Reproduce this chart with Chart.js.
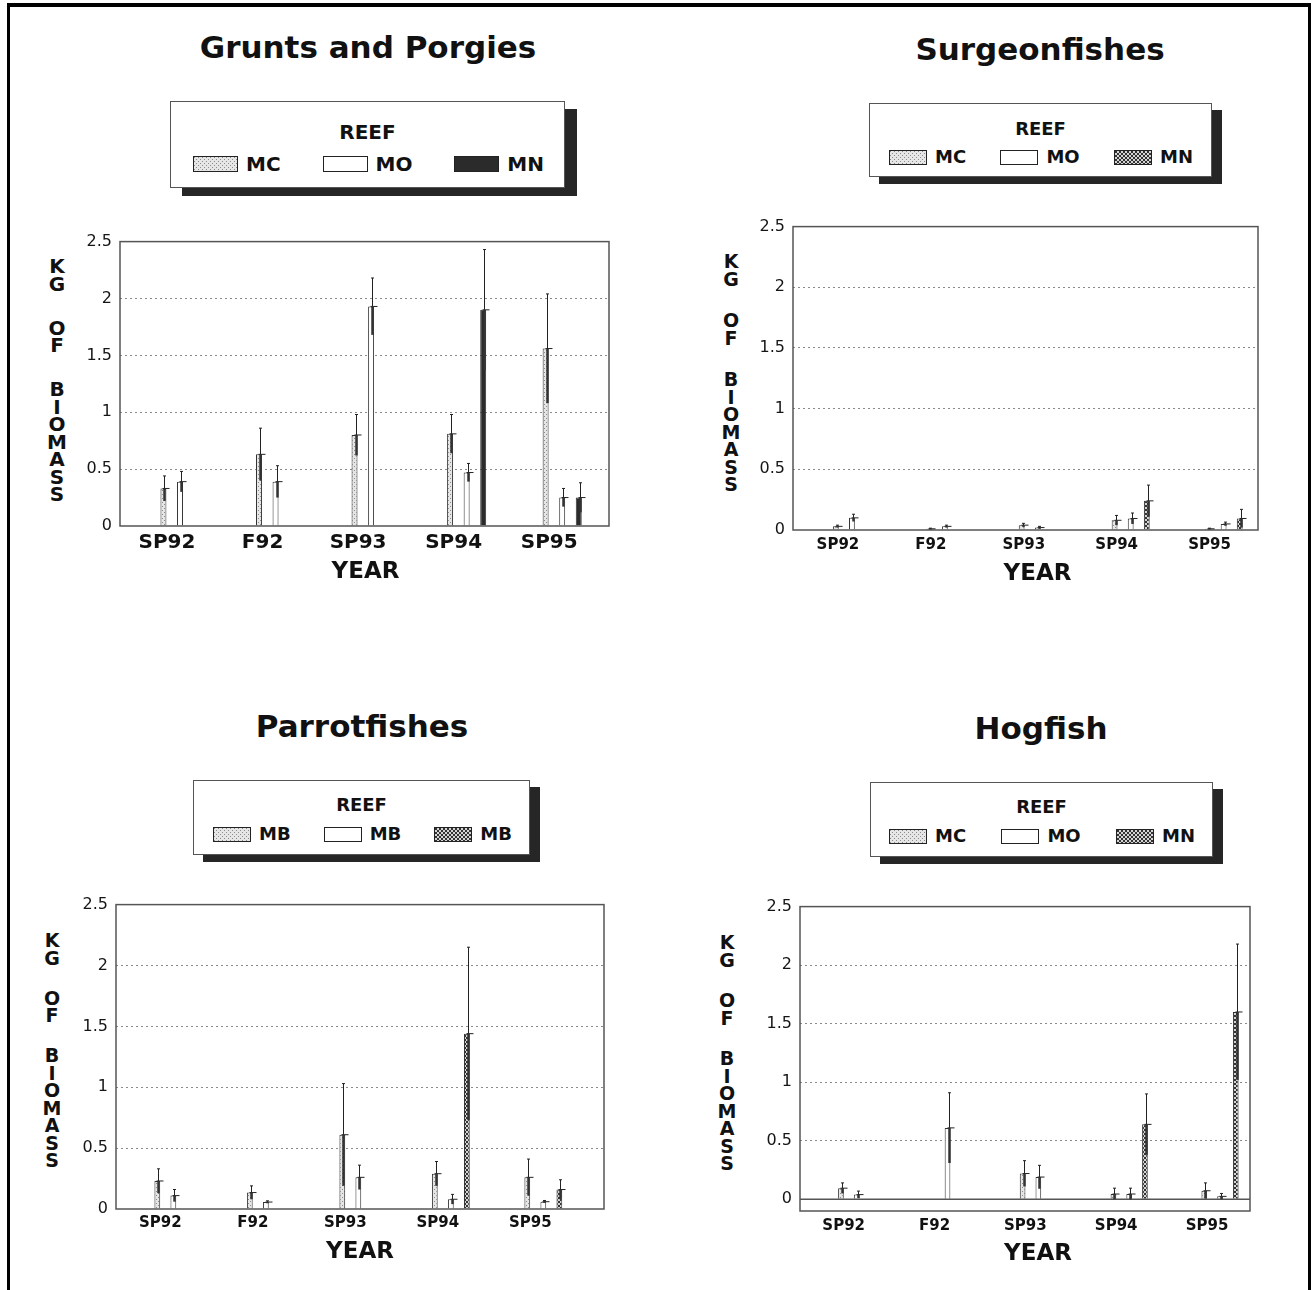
<!DOCTYPE html>
<html>
<head>
<meta charset="utf-8">
<script src="https://cdn.jsdelivr.net/npm/chart.js@4.4.1/dist/chart.umd.min.js"></script>
<style>
  html, body { margin: 0; padding: 0; background: #fff; }
  body { width: 1316px; height: 1290px; position: relative; overflow: hidden;
         font-family: "DejaVu Sans", sans-serif; color: #111; }
  .frame { position: absolute; left: 7px; top: 3px; width: 1304px; height: 1300px; box-sizing: border-box;
           border-top: 4px solid #000; border-left: 3px solid #000; border-right: 3px solid #000; }
  .title { position: absolute; font-weight: bold; font-size: 31px; line-height: 1;
           transform: translate(-50%, -50%); white-space: nowrap; }
  .legend { position: absolute; background: #fff; border: 1px solid #555; box-sizing: border-box; }
  .legend .head { position: absolute; left: 0; right: 0; text-align: center; font-weight: bold;
                  line-height: 1; transform: translateY(-50%); }
  .legend .items { position: absolute; display: flex; justify-content: space-between; align-items: center;
                   transform: translateY(-50%); }
  .legend .item { display: flex; align-items: center; font-weight: bold; line-height: 1; }
  .sw { border: 1.5px solid #222; box-sizing: border-box; margin-right: 8px; }
  .ylab { position: absolute; font-weight: bold; text-align: center; transform: translateX(-50%); }
  .ylab div { height: 17.5px; line-height: 17.5px; }
  canvas { position: absolute; }
</style>
</head>
<body>
<div class="frame"></div>
<script>
// seasons on the x axis
const seasons = ['SP92', 'F92', 'SP93', 'SP94', 'SP95'];
const reefs = ['MC', 'MO', 'MN'];
const parrotReefs = ['MB', 'MB', 'MB'];

// Grunts and Porgies: mean biomass (kg) and error
const gruntsMC = [0.33, 0.63, 0.80, 0.81, 1.56];
const gruntsMCErr = [0.11, 0.23, 0.18, 0.17, 0.48];
const gruntsMO = [0.39, 0.39, 1.93, 0.47, 0.25];
const gruntsMOErr = [0.09, 0.14, 0.25, 0.08, 0.08];
const gruntsMN = [null, null, null, 1.90, 0.25];
const gruntsMNErr = [null, null, null, 0.53, 0.13];

// Surgeonfishes
const surgeonMC = [0.03, 0.01, 0.04, 0.08, 0.01];
const surgeonMCErr = [0.01, 0.005, 0.015, 0.04, 0.005];
const surgeonMO = [0.10, 0.03, 0.02, 0.095, 0.05];
const surgeonMOErr = [0.03, 0.01, 0.01, 0.045, 0.015];
const surgeonMN = [null, null, null, 0.24, 0.095];
const surgeonMNErr = [null, null, null, 0.13, 0.075];

// Parrotfishes
const parrotMC = [0.23, 0.135, 0.61, 0.29, 0.26];
const parrotMCErr = [0.10, 0.055, 0.42, 0.10, 0.15];
const parrotMO = [0.11, 0.057, 0.26, 0.08, 0.06];
const parrotMOErr = [0.05, 0.01, 0.10, 0.04, 0.01];
const parrotMN = [null, null, null, 1.44, 0.16];
const parrotMNErr = [null, null, null, 0.71, 0.08];

// Hogfish
const hogMC = [0.095, null, 0.22, 0.045, 0.073];
const hogMCErr = [0.045, null, 0.11, 0.05, 0.067];
const hogMO = [0.04, 0.61, 0.19, 0.045, 0.025];
const hogMOErr = [0.03, 0.30, 0.10, 0.05, 0.025];
const hogMN = [null, null, null, 0.64, 1.60];
const hogMNErr = [null, null, null, 0.26, 0.58];

const yStep = 0.5;
const yMax = 2.5;
const FONT = '"DejaVu Sans", sans-serif';

// little fill tiles, used both for the bars and the legend swatches
function makeTile(kind) {
  const c = document.createElement('canvas');
  c.width = c.height = 4;
  const g = c.getContext('2d');
  if (kind === 'dots') {
    g.fillStyle = '#e6e6e6'; g.fillRect(0, 0, 4, 4);
    g.fillStyle = '#8c8c8c'; g.fillRect(0, 0, 1, 1); g.fillRect(2, 2, 1, 1);
  } else if (kind === 'check') {
    g.fillStyle = '#d4d4d4'; g.fillRect(0, 0, 4, 4);
    g.fillStyle = '#333'; g.fillRect(0, 0, 2, 2); g.fillRect(2, 2, 2, 2);
  } else if (kind === 'white') {
    g.fillStyle = '#fff'; g.fillRect(0, 0, 4, 4);
  } else {
    g.fillStyle = '#2b2b2b'; g.fillRect(0, 0, 4, 4);
  }
  return c;
}
const tiles = { dots: makeTile('dots'), white: makeTile('white'), check: makeTile('check'), dark: makeTile('dark') };
const pat = k => tiles[k].getContext('2d').createPattern(tiles[k], 'repeat');

const panels = [
  {
    title: 'Grunts and Porgies', tx: 368, ty: 47,
    leg: { x: 170, y: 101, w: 395, h: 87, sh: [12, 8], headY: 30, itemsY: 62, pl: 22, pr: 20, sw: [45, 16], font: 20 },
    names: reefs, fills: ['dots', 'white', 'dark'],
    ylab: { x: 57, top: 258, gap: 26.5, font: 20 },
    area: { L: 120, T: 238, R: 609, B: 526 }, xmin: -0.628, xmax: 4.49, ymin: 0,
    xFont: 20, xPad: 5, labelOffset: -13, yearY: 46, yearDx: 1,
    series: [[gruntsMC, gruntsMCErr], [gruntsMO, gruntsMOErr], [gruntsMN, gruntsMNErr]]
  },
  {
    title: 'Surgeonfishes', tx: 1040, ty: 49,
    leg: { x: 869, y: 103, w: 343, h: 74, sh: [10, 7], headY: 25, itemsY: 53, pl: 19, pr: 18, sw: [38, 15], font: 18 },
    names: reefs, fills: ['dots', 'white', 'check'],
    ylab: { x: 731, top: 253, gap: 24, font: 19 },
    area: { L: 793, T: 223, R: 1258, B: 530 }, xmin: -0.634, xmax: 4.37, ymin: 0,
    xFont: 15, xPad: 6, labelOffset: -14, yearY: 44, yearDx: 12,
    series: [[surgeonMC, surgeonMCErr], [surgeonMO, surgeonMOErr], [surgeonMN, surgeonMNErr]]
  },
  {
    title: 'Parrotfishes', tx: 362, ty: 726,
    leg: { x: 193, y: 780, w: 337, h: 75, sh: [10, 7], headY: 24, itemsY: 53, pl: 19, pr: 17, sw: [38, 15], font: 18 },
    names: parrotReefs, fills: ['dots', 'white', 'check'],
    ylab: { x: 52, top: 932, gap: 22.5, font: 19 },
    area: { L: 116, T: 901, R: 604, B: 1209 }, xmin: -0.62, xmax: 4.656, ymin: 0,
    xFont: 15, xPad: 5, labelOffset: -13, yearY: 43, yearDx: 0,
    series: [[parrotMC, parrotMCErr], [parrotMO, parrotMOErr], [parrotMN, parrotMNErr]]
  },
  {
    title: 'Hogfish', tx: 1041, ty: 728,
    leg: { x: 870, y: 782, w: 343, h: 75, sh: [10, 7], headY: 24, itemsY: 53, pl: 18, pr: 17, sw: [38, 15], font: 18 },
    names: reefs, fills: ['dots', 'white', 'check'],
    ylab: { x: 727, top: 934, gap: 23, font: 19 },
    area: { L: 800, T: 903, R: 1250, B: 1211 }, xmin: -0.624, xmax: 4.33, ymin: -0.1,
    xFont: 15, xPad: 6, labelOffset: -13, yearY: 43, yearDx: 13,
    series: [[hogMC, hogMCErr], [hogMO, hogMOErr], [hogMN, hogMNErr]]
  }
];

// error bars: thin line up to mean+err with a cap, thick segment down to mean-err
const errorBars = {
  id: 'errorBars',
  afterDatasetsDraw(chart) {
    const { ctx } = chart;
    const y = chart.scales.y;
    chart.data.datasets.forEach((ds, i) => {
      chart.getDatasetMeta(i).data.forEach((bar, j) => {
        const v = ds.data[j].y, e = ds.errors[j];
        if (v == null || e == null) return;
        const x = Math.round(bar.x) + 1.5;
        const pTop = y.getPixelForValue(v + e);
        const pMid = y.getPixelForValue(v);
        const pLow = y.getPixelForValue(Math.max(v - e, 0));
        ctx.save();
        ctx.strokeStyle = '#222';
        ctx.lineWidth = 1;
        ctx.beginPath();
        ctx.moveTo(x, pMid); ctx.lineTo(x, pTop);
        ctx.moveTo(x - 1.5, pTop); ctx.lineTo(x + 1.5, pTop);
        ctx.moveTo(x - 2, pMid); ctx.lineTo(x + 5, pMid);
        ctx.stroke();
        ctx.lineWidth = 2.5;
        ctx.strokeStyle = '#333';
        ctx.beginPath();
        ctx.moveTo(x, pMid); ctx.lineTo(x, pLow);
        ctx.stroke();
        ctx.restore();
      });
    });
  }
};

// box round the plot area, a solid zero line when the axis dips below 0,
// and the YEAR caption (the scans place it a little right of centre)
const plotFrame = {
  id: 'plotFrame',
  afterDatasetsDraw(chart, args, opts) {
    const { ctx, chartArea: a } = chart;
    const y = chart.scales.y;
    ctx.save();
    ctx.strokeStyle = '#555';
    ctx.lineWidth = 1.5;
    ctx.strokeRect(a.left, a.top, a.right - a.left, a.bottom - a.top);
    if (y.min < 0) {
      const z = y.getPixelForValue(0);
      ctx.beginPath(); ctx.moveTo(a.left, z); ctx.lineTo(a.right, z); ctx.stroke();
    }
    ctx.fillStyle = '#111';
    ctx.font = `bold 23px ${FONT}`;
    ctx.textAlign = 'center';
    ctx.textBaseline = 'middle';
    ctx.fillText(opts.text, (a.left + a.right) / 2 + opts.dx, a.bottom + opts.dy);
    ctx.restore();
  }
};

function addDiv(cls, css, html) {
  const d = document.createElement('div');
  d.className = cls;
  Object.assign(d.style, css);
  if (html != null) d.innerHTML = html;
  document.body.appendChild(d);
  return d;
}

panels.forEach(p => {
  addDiv('title', { left: p.tx + 'px', top: p.ty + 'px' }, p.title);

  // legend box with its drop shadow
  const lg = p.leg;
  const box = addDiv('legend', {
    left: lg.x + 'px', top: lg.y + 'px', width: lg.w + 'px', height: lg.h + 'px',
    boxShadow: `${lg.sh[0]}px ${lg.sh[1]}px 0 #262626`
  });
  const head = document.createElement('div');
  head.className = 'head';
  head.style.top = lg.headY + 'px';
  head.style.fontSize = lg.font + 'px';
  head.textContent = 'REEF';
  box.appendChild(head);
  const items = document.createElement('div');
  items.className = 'items';
  Object.assign(items.style, { left: lg.pl + 'px', right: lg.pr + 'px', top: lg.itemsY + 'px' });
  p.names.forEach((n, k) => {
    const it = document.createElement('div');
    it.className = 'item';
    it.style.fontSize = lg.font + 'px';
    it.innerHTML = `<span class="sw" style="width:${lg.sw[0]}px;height:${lg.sw[1]}px;
      background:url(${tiles[p.fills[k]].toDataURL()})"></span>${n}`;
    items.appendChild(it);
  });
  box.appendChild(items);

  // stacked vertical axis label
  const yl = addDiv('ylab', { left: p.ylab.x + 'px', top: p.ylab.top + 'px', fontSize: p.ylab.font + 'px' });
  [['K', 'G'], ['O', 'F'], ['B', 'I', 'O', 'M', 'A', 'S', 'S']].forEach((grp, gi) => {
    grp.forEach((ch, ci) => {
      const d = document.createElement('div');
      d.textContent = ch;
      if (gi > 0 && ci === 0) d.style.marginTop = p.ylab.gap + 'px';
      yl.appendChild(d);
    });
  });

  // canvas sized so that the chart area lands on the plot box
  const a = p.area, padT = 14, padR = 14, yW = 60, xH = 70;
  const cv = document.createElement('canvas');
  cv.width = a.R - a.L + yW + padR;
  cv.height = a.B - a.T + padT + xH;
  cv.style.left = (a.L - yW) + 'px';
  cv.style.top = (a.T - padT) + 'px';
  document.body.appendChild(cv);

  const datasets = p.series.map(([vals, errs], k) => ({
    label: p.names[k],
    data: vals.map((v, i) => ({ x: i, y: v })),
    errors: errs,
    backgroundColor: pat(p.fills[k]),
    borderColor: '#333',
    borderWidth: 1,
    borderSkipped: 'bottom'
  }));

  new Chart(cv, {
    type: 'bar',
    data: { datasets },
    plugins: [plotFrame, errorBars],
    options: {
      responsive: false,
      animation: false,
      devicePixelRatio: 1,
      layout: { padding: { top: padT, right: padR, left: 0, bottom: 0 } },
      plugins: {
        legend: { display: false },
        tooltip: { enabled: false },
        plotFrame: { text: 'YEAR', dx: p.yearDx, dy: p.yearY }
      },
      datasets: { bar: { categoryPercentage: 0.52, barPercentage: 0.36 } },
      scales: {
        x: {
          type: 'linear', min: p.xmin, max: p.xmax, offset: false,
          grid: { display: false, drawTicks: false },
          border: { display: false },
          ticks: {
            stepSize: 1, includeBounds: false, autoSkip: false, maxRotation: 0,
            labelOffset: p.labelOffset, padding: p.xPad, color: '#111',
            font: { family: FONT, size: p.xFont, weight: 'bold' },
            callback: v => (Number.isInteger(v) && seasons[v]) ? seasons[v] : ''
          },
          afterFit: s => { s.height = xH; }
        },
        y: {
          min: p.ymin, max: yMax,
          grid: {
            drawTicks: false, lineWidth: 1,
            color: c => (c.tick && c.tick.value > 0 && c.tick.value < yMax) ? '#8a8a8a' : 'rgba(0,0,0,0)'
          },
          border: { display: false, dash: [2, 3] },
          ticks: {
            stepSize: yStep, includeBounds: false, padding: 8, color: '#151515',
            font: { family: FONT, size: 16 },
            callback: v => v < 0 ? '' : String(v)
          },
          afterFit: s => { s.width = yW; }
        }
      }
    }
  });
});
</script>
</body>
</html>
